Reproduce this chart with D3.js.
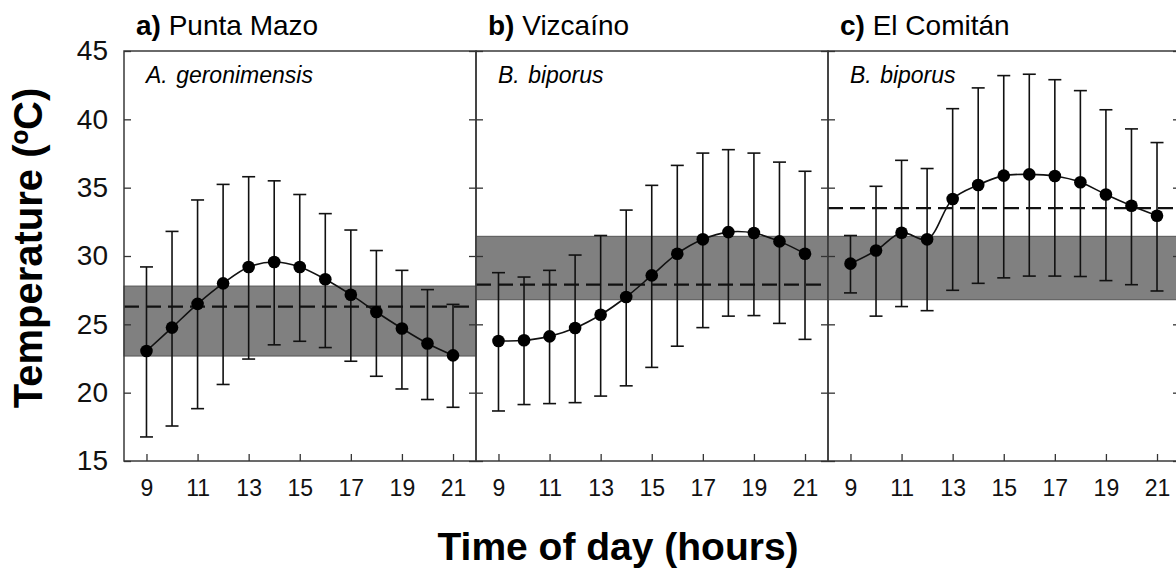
<!DOCTYPE html>
<meta charset="utf-8">
<head>
    <title>Temperature by time of day</title>
    <script src="https://cdn.jsdelivr.net/npm/d3@7"></script>
</head>
<style>
    body { margin: 0; background: #fff; }
    svg { font-family: "Liberation Sans", Arial, sans-serif; display: block; }
    .frame { fill: none; stroke: #3a3a3a; stroke-width: 1.5px; }
    .band { fill: #808080; stroke: #555; stroke-width: 1px; }
    .mean { stroke: #111; stroke-width: 2.2px; stroke-dasharray: 15 7; }
    .err { stroke: #111; stroke-width: 1.6px; fill: none; }
    .trend { stroke: #111; stroke-width: 1.6px; fill: none; }
    .dot { fill: #000; }
    .tick line { stroke: #333; stroke-width: 1.3px; }
    .domain { display: none; }
</style>
<body>
<svg></svg>
<script>
    var vWidth = 1176, vHeight = 571;

    var hours = [9, 10, 11, 12, 13, 14, 15, 16, 17, 18, 19, 20, 21];
    var xTicks = [9, 11, 13, 15, 17, 19, 21];
    var yTicks = [15, 20, 25, 30, 35, 40, 45];

    var panelLetters = ['a)', 'b)', 'c)'];
    var panelSites = ['Punta Mazo', 'Vizcaíno', 'El Comitán'];
    var speciesGenus = ['A.', 'B.', 'B.'];
    var speciesName = ['geronimensis', 'biporus', 'biporus'];

    // mean temperature per hour, with error bar ends
    var meanA = [23.05, 24.76, 26.5, 28.0, 29.2, 29.56, 29.2, 28.3, 27.17, 25.9, 24.7, 23.6, 22.73];
    var highA = [29.2, 31.8, 34.1, 35.24, 35.8, 35.5, 34.5, 33.1, 31.9, 30.4, 28.95, 27.54, 26.46];
    var lowA  = [16.76, 17.56, 18.83, 20.6, 22.46, 23.5, 23.76, 23.3, 22.3, 21.2, 20.27, 19.5, 18.93];

    var meanB = [23.78, 23.83, 24.12, 24.73, 25.7, 27.0, 28.58, 30.17, 31.22, 31.75, 31.68, 31.07, 30.17];
    var highB = [28.78, 28.46, 28.95, 30.07, 31.5, 33.36, 35.17, 36.63, 37.53, 37.78, 37.53, 36.87, 36.2];
    var lowB  = [18.66, 19.13, 19.2, 19.27, 19.75, 20.5, 21.85, 23.4, 24.76, 25.6, 25.64, 25.07, 23.9];

    var meanC = [29.44, 30.4, 31.7, 31.22, 34.17, 35.2, 35.88, 35.97, 35.85, 35.4, 34.5, 33.68, 32.95];
    var highC = [31.5, 35.1, 37.0, 36.4, 40.78, 42.3, 43.2, 43.3, 42.9, 42.1, 40.7, 39.3, 38.3];
    var lowC  = [27.3, 25.6, 26.3, 26.0, 27.49, 28.0, 28.4, 28.53, 28.53, 28.5, 28.2, 27.9, 27.44];

    // preferred temperature range (band) and its mean (dashed line)
    var bandLow  = [22.68, 26.8, 26.8];
    var bandHigh = [27.8, 31.44, 31.44];
    var bandMean = [26.3, 27.9, 33.5];

    var means = [meanA, meanB, meanC];
    var highs = [highA, highB, highC];
    var lows = [lowA, lowB, lowC];

    var plotLeft = 124, plotTop = 51, panelW = 352, plotH = 410;

    var svg = d3.select('svg').attr('width', vWidth).attr('height', vHeight);

    var y = d3.scaleLinear().domain([15, 45]).range([plotTop + plotH, plotTop]);

    panelLetters.forEach(function (letter, i) {
        var x0 = plotLeft + i * panelW;
        var x = d3.scaleLinear().domain([8.12, 21.9]).range([x0, x0 + panelW]);
        var g = svg.append('g');

        // band + dashed mean
        g.append('rect').attr('class', 'band')
            .attr('x', x0).attr('width', panelW)
            .attr('y', y(bandHigh[i])).attr('height', y(bandLow[i]) - y(bandHigh[i]));
        g.append('line').attr('class', 'mean')
            .attr('x1', x0).attr('x2', x0 + panelW)
            .attr('y1', y(bandMean[i])).attr('y2', y(bandMean[i]));

        // frame
        g.append('rect').attr('class', 'frame')
            .attr('x', x0).attr('y', plotTop).attr('width', panelW).attr('height', plotH);

        // axes (ticks inward)
        var ax = g.append('g').attr('transform', 'translate(0,' + (plotTop + plotH) + ')')
            .call(d3.axisBottom(x).tickValues(xTicks).tickSize(-7).tickPadding(19));
        ax.selectAll('text').style('font-size', '23px').attr('fill', '#111');

        var ayL = g.append('g').attr('transform', 'translate(' + x0 + ',0)')
            .call(d3.axisLeft(y).tickValues(yTicks).tickSize(-7).tickPadding(16));
        ayL.selectAll('text').style('font-size', '28px').attr('fill', '#111');
        if (i > 0) ayL.selectAll('text').remove();
        g.append('g').attr('transform', 'translate(' + (x0 + panelW) + ',0)')
            .call(d3.axisRight(y).tickValues(yTicks).tickSize(-7))
            .selectAll('text').remove();

        // error bars
        var rows = hours.map(function (h, k) {
            return {h: h, m: means[i][k], hi: highs[i][k], lo: lows[i][k]};
        });
        var eb = g.selectAll('.eb').data(rows).enter().append('g');
        eb.append('line').attr('class', 'err')
            .attr('x1', function (d) { return x(d.h); }).attr('x2', function (d) { return x(d.h); })
            .attr('y1', function (d) { return y(d.hi); }).attr('y2', function (d) { return y(d.lo); });
        eb.append('line').attr('class', 'err')
            .attr('x1', function (d) { return x(d.h) - 6.5; }).attr('x2', function (d) { return x(d.h) + 6.5; })
            .attr('y1', function (d) { return y(d.hi); }).attr('y2', function (d) { return y(d.hi); });
        eb.append('line').attr('class', 'err')
            .attr('x1', function (d) { return x(d.h) - 6.5; }).attr('x2', function (d) { return x(d.h) + 6.5; })
            .attr('y1', function (d) { return y(d.lo); }).attr('y2', function (d) { return y(d.lo); });

        // smoothed line + dots
        var line = d3.line().curve(d3.curveCatmullRom)
            .x(function (d) { return x(d.h); }).y(function (d) { return y(d.m); });
        g.append('path').attr('class', 'trend').attr('d', line(rows));
        g.selectAll('.dot').data(rows).enter().append('circle').attr('class', 'dot')
            .attr('cx', function (d) { return x(d.h); })
            .attr('cy', function (d) { return y(d.m); })
            .attr('r', 6.3);

        // panel title
        var t = svg.append('text').attr('x', x0 + 12).attr('y', 35).style('font-size', '28px');
        t.append('tspan').style('font-weight', 'bold').text(letter);
        t.append('tspan').text(' ' + panelSites[i]);

        // species label
        var s = svg.append('text').attr('x', x0 + 22).attr('y', 83)
            .style('font-size', '23px').style('font-style', 'italic');
        s.append('tspan').text(speciesGenus[i] + ' ');
        s.append('tspan').attr('dx', 2).text(speciesName[i]);
    });

    svg.append('text')
        .attr('transform', 'translate(42,248) rotate(-90)')
        .attr('text-anchor', 'middle')
        .style('font-size', '40px').style('font-weight', 'bold')
        .text('Temperature (ºC)');

    svg.append('text')
        .attr('x', 618).attr('y', 560)
        .attr('text-anchor', 'middle')
        .style('font-size', '39px').style('font-weight', 'bold')
        .text('Time of day (hours)');
</script>
</body>
